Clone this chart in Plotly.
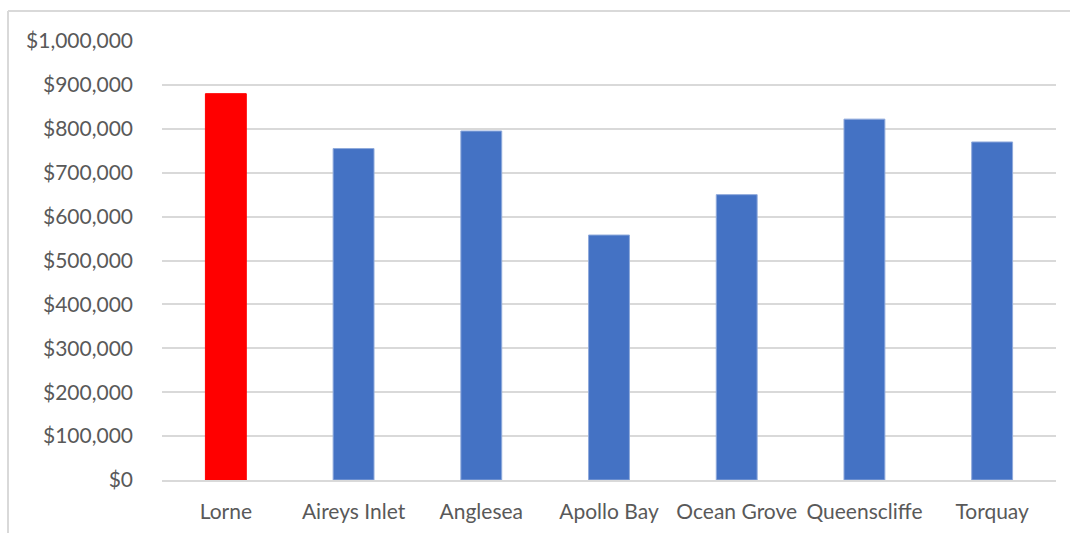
import plotly.graph_objects as go

# Median house prices by town
towns = ["Lorne", "Aireys Inlet", "Anglesea", "Apollo Bay", "Ocean Grove", "Queenscliffe", "Torquay"]
prices = [880000, 755000, 795000, 558000, 650000, 822000, 770000]
bar_colors = ["#FF0000", "#4472C4", "#4472C4", "#4472C4", "#4472C4", "#4472C4", "#4472C4"]
edge_colors = ["#FF0000", "#8EA9DB", "#8EA9DB", "#8EA9DB", "#8EA9DB", "#8EA9DB", "#8EA9DB"]
y_ticks = [0, 100000, 200000, 300000, 400000, 500000, 600000, 700000, 800000, 900000, 1000000]
y_tick_text = [f"${v:,}" for v in y_ticks]

W, H = 1070, 533
L, R, T, B = 162, 14, 41, 53
plot_w, plot_h = W - L - R, H - T - B

fig = go.Figure(
    go.Bar(
        x=towns,
        y=prices,
        marker=dict(color=bar_colors, line=dict(color=edge_colors, width=1)),
        width=0.32,
    )
)

# chart-area frame: top and left edges
frame_x = -(L - 8) / plot_w
frame_y = 1 + (T - 11) / plot_h
border = dict(color="#D9D9D9", width=2)
fig.add_shape(type="line", xref="paper", yref="paper", x0=frame_x, x1=1 + R / plot_w + 0.01,
              y0=frame_y, y1=frame_y, line=border)
fig.add_shape(type="line", xref="paper", yref="paper", x0=frame_x, x1=frame_x,
              y0=frame_y, y1=-(B + 5) / plot_h, line=border)

fig.update_layout(
    width=W,
    height=H,
    margin=dict(l=L, r=R, t=T, b=B, pad=0),
    paper_bgcolor="white",
    plot_bgcolor="white",
    showlegend=False,
    font=dict(family="Lato, Open Sans, sans-serif", size=21, color="#595959"),
    xaxis=dict(
        automargin=False,
        showgrid=False,
        showline=True,
        linecolor="#D9D9D9",
        linewidth=2,
        ticks="",
        ticklabelstandoff=12,
        tickfont=dict(size=21, color="#595959"),
        range=[-0.5, 6.5],
    ),
    yaxis=dict(
        automargin=False,
        range=[0, 1000000],
        tickmode="array",
        tickvals=y_ticks,
        ticktext=y_tick_text,
        showgrid=True,
        gridcolor="#D9D9D9",
        gridwidth=2,
        zeroline=False,
        showline=False,
        ticks="",
        ticklabelstandoff=28,
        tickfont=dict(size=21, color="#595959"),
    ),
)

fig.write_html("out.html")
